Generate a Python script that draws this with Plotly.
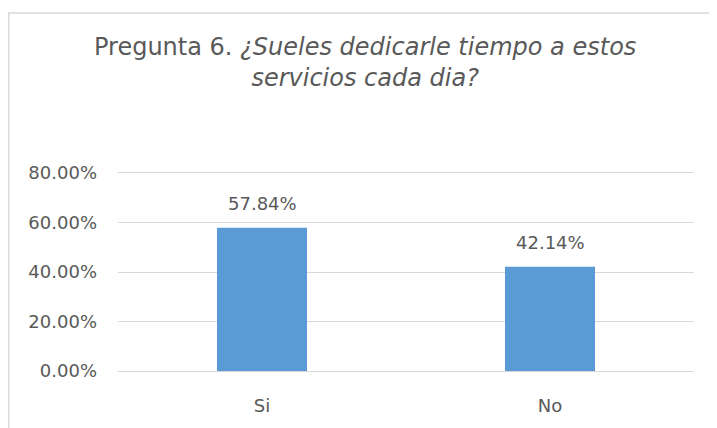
import plotly.graph_objects as go

categories = ["Si", "No"]
values = [0.5784, 0.4214]
tick_vals = [0, 0.2, 0.4, 0.6, 0.8]
title_plain = "Pregunta 6. "
title_italic_1 = "¿Sueles dedicarle tiempo a estos"
title_italic_2 = "servicios cada dia?"

GREY = "#595959"
FONT = "DejaVu Sans"

fig = go.Figure()
fig.add_trace(go.Bar(
    x=categories, y=values,
    marker=dict(color="#5B9BD5", line=dict(width=0)),
    hoverinfo="skip",
))

for c, v in zip(categories, values):
    fig.add_annotation(
        x=c, y=v, xref="x", yref="y",
        text=f"{v*100:.2f}%", showarrow=False,
        yanchor="bottom", yshift=12,
        font=dict(family=FONT, size=18, color=GREY),
    )

fig.add_annotation(
    xref="paper", yref="paper", x=0.429, y=1.537,
    xanchor="center", yanchor="middle", showarrow=False,
    text=f"{title_plain}<i>{title_italic_1}</i><br><i>{title_italic_2}</i>",
    font=dict(family=FONT, size=24, color=GREY),
)

fig.add_shape(
    type="rect", xref="paper", yref="paper",
    x0=-0.1895, x1=1.0365, y0=-0.35, y1=1.781,
    line=dict(color="#d9d9d9", width=1.5), fillcolor="rgba(0,0,0,0)",
    layer="below",
)

fig.update_layout(
    width=709, height=420,
    margin=dict(l=110, r=23, t=162, b=57),
    paper_bgcolor="white", plot_bgcolor="white",
    bargap=0.6875,
    showlegend=False,
    font=dict(family=FONT, color=GREY),
)
fig.update_yaxes(
    range=[0, 0.8121], tickvals=tick_vals, tickformat=".2%",
    showgrid=True, gridcolor="#d9d9d9", gridwidth=1,
    zeroline=True, zerolinecolor="#d9d9d9", zerolinewidth=1,
    showline=False, ticks="",
    tickfont=dict(family=FONT, size=18, color=GREY),
    ticklabelstandoff=20,
)
fig.update_xaxes(
    showgrid=False, showline=False, ticks="",
    tickfont=dict(family=FONT, size=18, color=GREY),
    ticklabelstandoff=22,
)

fig.write_html("out.html")
